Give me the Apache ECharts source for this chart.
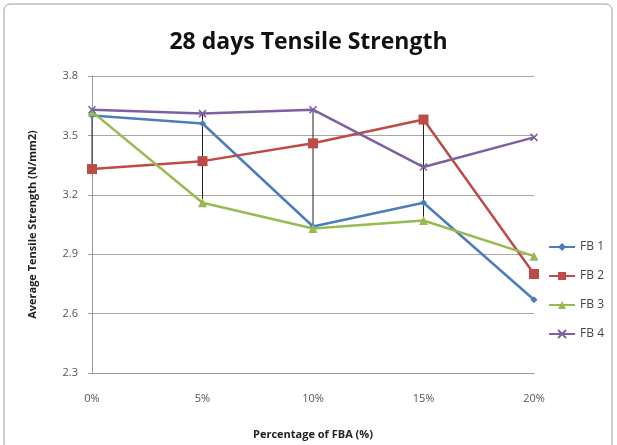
<!DOCTYPE html>
<html><head><meta charset="utf-8">
<script src="https://cdn.jsdelivr.net/npm/echarts@6/dist/echarts.min.js"></script>
<style>html,body{margin:0;padding:0;background:#fff}#c{width:617px;height:445px}</style>
</head><body><div id="c"></div>
<script>
const categories = ['0%', '5%', '10%', '15%', '20%'];
const fb1 = [3.60, 3.56, 3.04, 3.16, 2.67];
const fb2 = [3.33, 3.37, 3.46, 3.58, 2.80];
const fb3 = [3.62, 3.16, 3.03, 3.07, 2.89];
const fb4 = [3.63, 3.61, 3.63, 3.34, 3.49];
const seriesNames = ['FB 1', 'FB 2', 'FB 3', 'FB 4'];
const highLowCategories = ['0%', '5%', '10%', '15%'];
const colors = ['#4a7ebb', '#be4b48', '#98b954', '#7d60a0'];
const all = [fb1, fb2, fb3, fb4];
const highLow = highLowCategories.map(c => {
  const i = categories.indexOf(c);
  const v = all.map(s => s[i]);
  return [i, Math.min(...v), Math.max(...v)];
});
const font = '"Open Sans", "Noto Sans", sans-serif';
const chart = echarts.init(document.getElementById('c'));
const symbols = ['diamond', 'rect', 'triangle', 'path://M0,0L10,10M10,0L0,10'];
const sizes = [7, 10, 9, 7];
chart.setOption({
  animation: false,
  backgroundColor: '#fff',
  graphic: [{type: 'rect', shape: {x: 4, y: 4, width: 608, height: 446, r: 6}, style: {fill: 'none', stroke: '#a0a0a0', lineWidth: 1}}],
  title: {text: '28 days Tensile Strength', left: 'center', top: 26,
    textStyle: {fontFamily: font, fontWeight: 'bold', fontSize: 23, color: '#111'}},
  grid: {left: 92, right: 83, top: 76, bottom: 72},
  legend: {orient: 'vertical', right: 8, top: 236, itemGap: 17, itemWidth: 26, itemHeight: 10,
    data: seriesNames,
    textStyle: {fontFamily: font, fontSize: 12, color: '#444'}},
  xAxis: {type: 'category', data: categories, boundaryGap: false,
    name: 'Percentage of FBA (%)', nameLocation: 'middle', nameGap: 56,
    nameTextStyle: {fontFamily: font, fontWeight: 'bold', fontSize: 11, color: '#222'},
    axisLine: {lineStyle: {color: '#9a9a9a'}}, axisTick: {show: false},
    axisLabel: {fontFamily: font, fontSize: 11, color: '#555', margin: 20},
    splitLine: {show: false}},
  yAxis: {type: 'value', min: 2.3, max: 3.8, interval: 0.3,
    name: 'Average Tensile Strength (N/mm2)', nameLocation: 'middle', nameGap: 54,
    nameTextStyle: {fontFamily: font, fontWeight: 'bold', fontSize: 11, color: '#222'},
    axisLine: {show: true, lineStyle: {color: '#9a9a9a'}}, axisTick: {show: true, length: 4, lineStyle: {color: '#9a9a9a'}},
    axisLabel: {fontFamily: font, fontSize: 11, color: '#555', margin: 14, formatter: v => v.toFixed(1)},
    splitLine: {lineStyle: {color: '#a8a8a8'}}},
  series: [
    {type: 'custom', name: 'hl', z: 1, silent: true, data: highLow,
      renderItem: (params, api) => {
        const p1 = api.coord([api.value(0), api.value(1)]);
        const p2 = api.coord([api.value(0), api.value(2)]);
        return {type: 'line', shape: {x1: p1[0], y1: p1[1], x2: p2[0], y2: p2[1]}, style: {stroke: '#222', lineWidth: 1}};
      }}
  ].concat(all.map((d, k) => ({
    type: 'line', name: seriesNames[k], data: d, z: 3 + k,
    symbol: symbols[k], symbolSize: sizes[k], showAllSymbol: true,
    lineStyle: {color: colors[k], width: 2.5},
    itemStyle: {color: colors[k], borderColor: colors[k], borderWidth: k === 3 ? 1.5 : 0}
  })))
});
</script></body></html>
